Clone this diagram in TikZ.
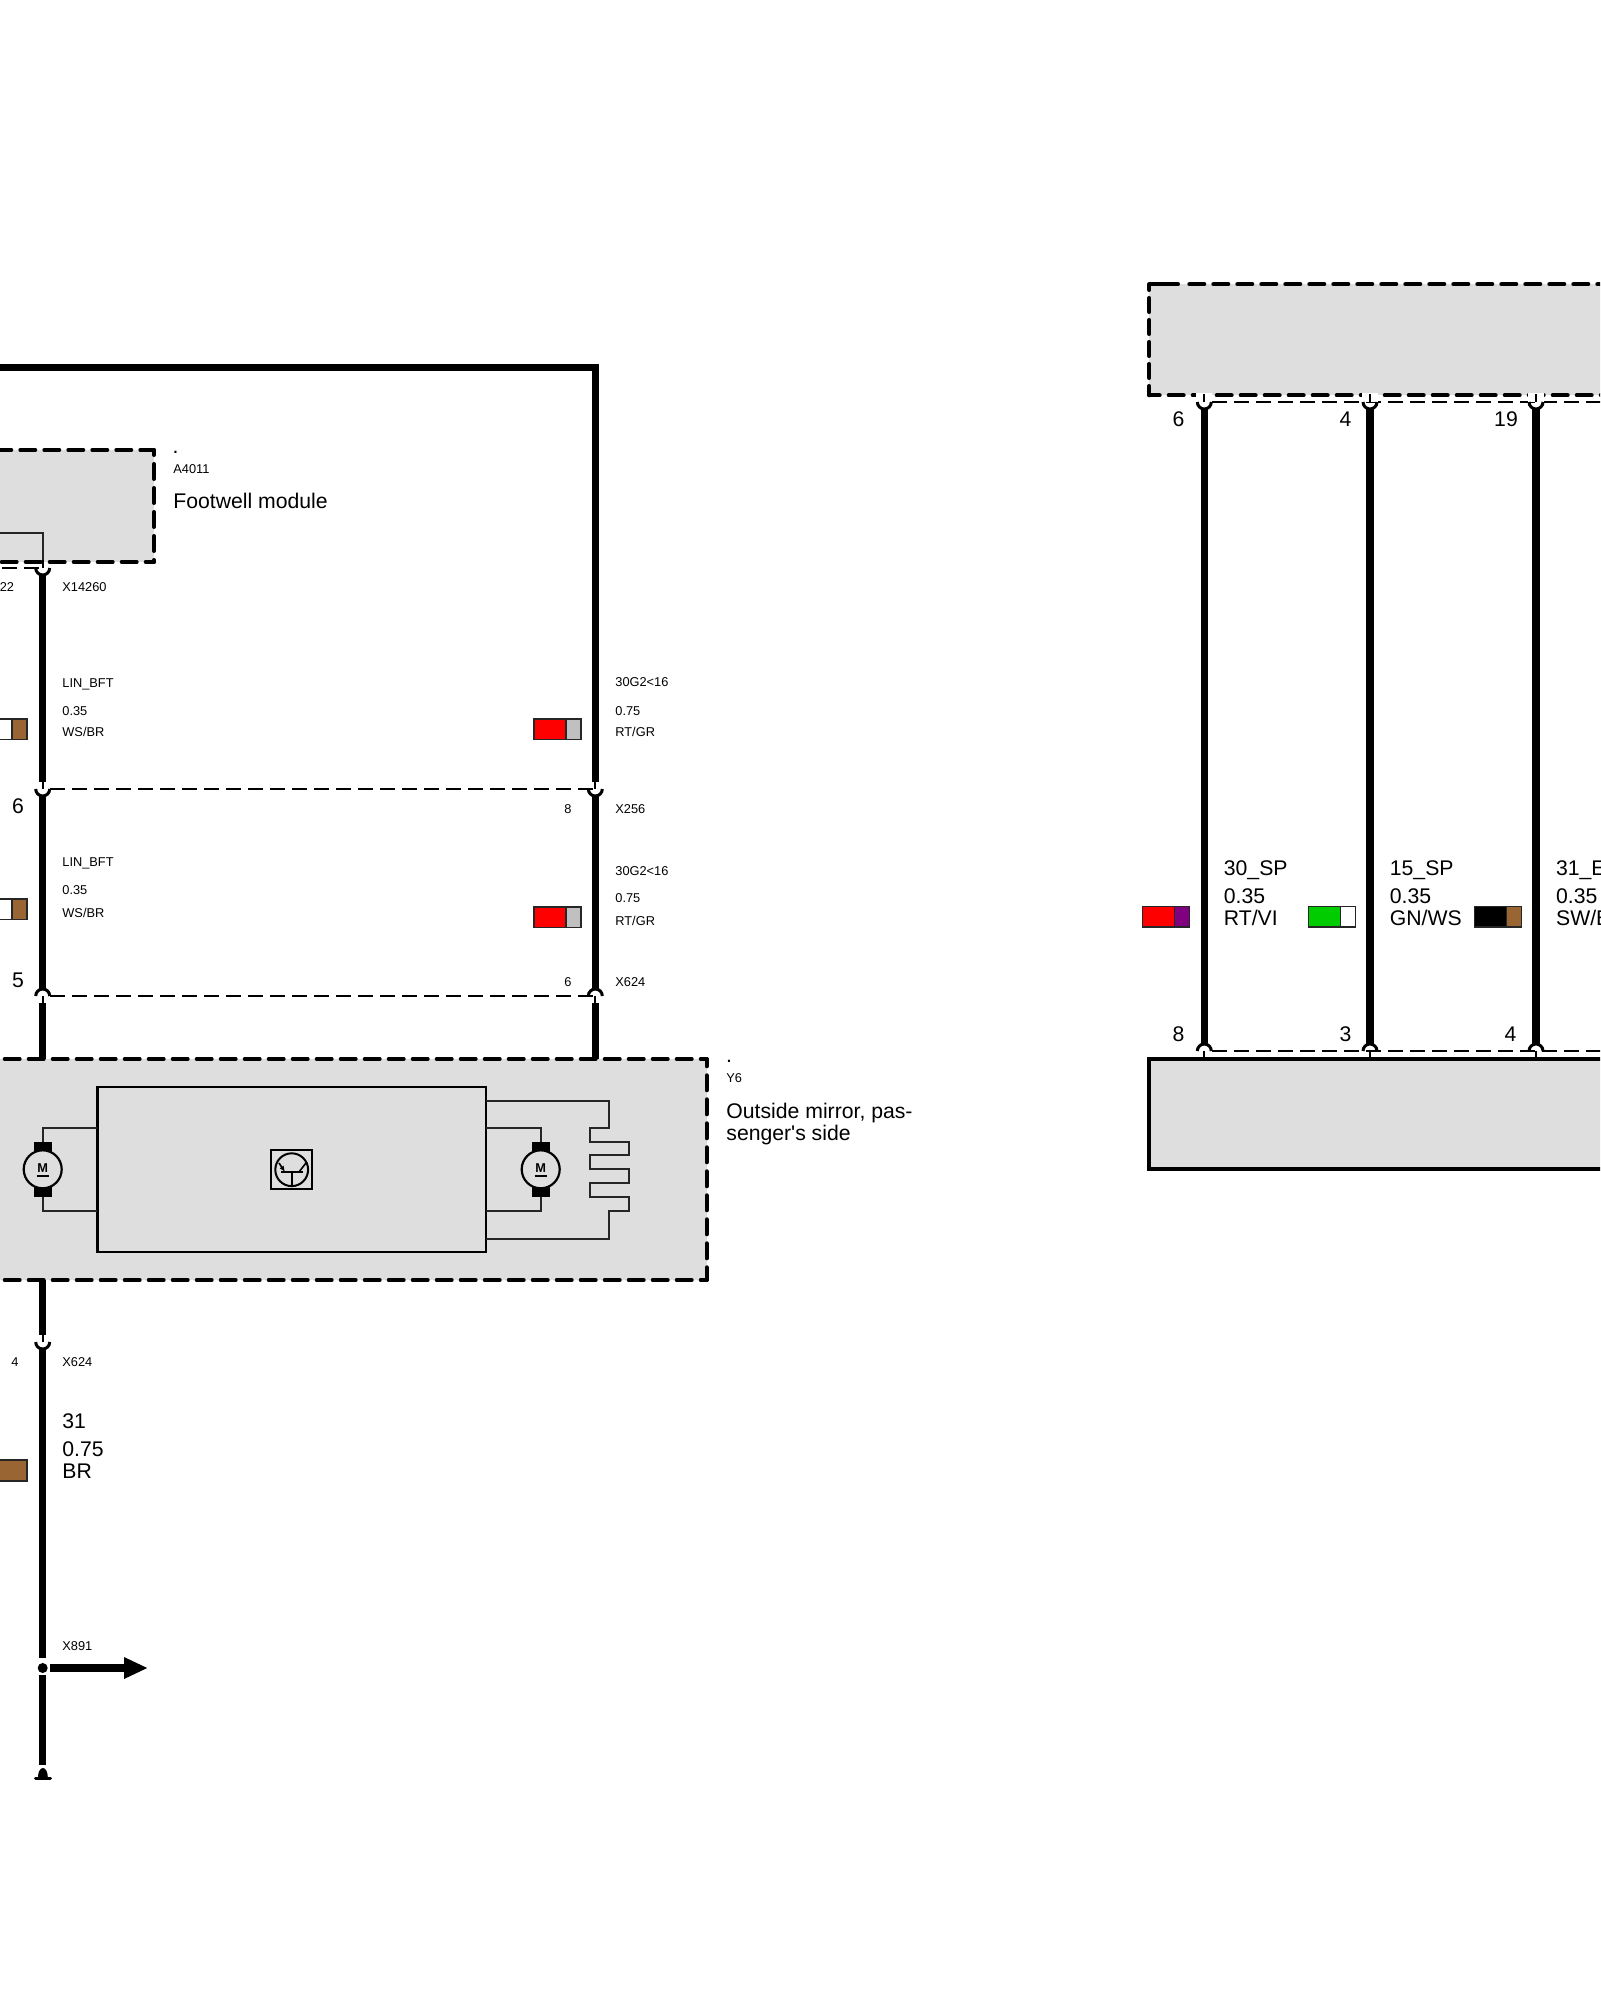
\documentclass[tikz,border=0pt]{standalone}
\usepackage{fontspec}
\setmainfont{Liberation Sans}
\newfontfamily\straightfont{Liberation Sans}
\usetikzlibrary{arrows.meta,calc}
\definecolor{boxgray}{HTML}{DEDEDE}
\definecolor{wirebrown}{HTML}{996633}
\definecolor{wiregreen}{HTML}{00CC00}
\definecolor{wiregray}{HTML}{C0C0C0}
\definecolor{wirepurple}{HTML}{800080}
\tikzset{>=latex,
  wire/.style={line width=3.6pt,black},
  stem/.style={line width=0.9pt,black},
  plug/.style={line width=1.5pt,black},
  thinline/.style={line width=1pt,black!85},
  pinline/.style={line width=0.9pt,black,dash pattern=on 7.5pt off 3.5pt},
  modedge/.style={line width=2pt,line cap=round,dash pattern=on 7.5pt off 4.5pt},
  solidbox/.style={line width=2pt,fill=boxgray},
  swatchline/.style={line width=0.8pt,draw=black!85},
  smalltxt/.style={font=\fontsize{6.4}{7.5}\selectfont,inner sep=0pt,anchor=west,text height=4.5pt,text depth=0pt},
  bigtxt/.style={font=\fontsize{10.6}{12.5}\selectfont,inner sep=0pt,anchor=west,text height=7.5pt,text depth=0pt}
}
\newcommand{\plugcup}[1]{%
  \draw[stem] (#1) -- ++(0,-8);
  \draw[plug] ([xshift=-3.5pt]#1) arc[start angle=180,end angle=360,radius=3.5pt];
}
\newcommand{\plugdome}[1]{%
  \draw[stem] (#1) -- ++(0,8);
  \draw[plug] ([xshift=-3.5pt]#1) arc[start angle=180,end angle=0,radius=3.5pt];
}
\begin{document}
\begin{tikzpicture}[x=0.5pt,y=-0.5pt]
  \useasboundingbox (0,0) rectangle (1600,2000);
  \clip (0,0) rectangle (1600,2000);

  % module boxes
  \fill[boxgray] (-20,450) rectangle (154,562);
  \fill[boxgray] (-20,1059) rectangle (706.7,1280);
  \fill[boxgray] (1149.3,284.3) rectangle (1620,395.3);
  \draw[modedge] (-3.7,450) -- (154,450);
  \draw[modedge] (-22.3,562) -- (154,562);
  \draw[modedge,dash phase=5pt] (154,450) -- (154,562);
  \draw[modedge] (-19.3,1059) -- (706.7,1059);
  \draw[modedge] (-19.3,1280) -- (706.7,1280);
  \draw[modedge,dash phase=3.85pt] (706.7,1059) -- (706.7,1280);
  \draw[line width=2pt,line cap=round] (1149.3,284.3) -- (1178,284.3);
  \draw[modedge] (1189.3,284.3) -- (1620,284.3);
  \draw[modedge,dash phase=2.3pt] (1149.3,395.3) -- (1620,395.3);
  \draw[line width=2pt,line cap=round,dash pattern=on 7pt off 4pt,dash phase=4.15pt] (1149.3,284.3) -- (1149.3,395.3);
  \draw[solidbox] (1620,1059) -- (1149.3,1059) -- (1149.3,1169.3) -- (1620,1169.3);

  % pin coordinates
  \coordinate (lina) at (42.7,568);
  \coordinate (linb) at (42.7,789);
  \coordinate (linc) at (42.7,996);
  \coordinate (gnda) at (42.7,1342);
  \coordinate (gndb) at (42.7,1668);
  \coordinate (gndc) at (42.7,1778);
  \coordinate (batb) at (595.3,789);
  \coordinate (batc) at (595.3,996);
  \coordinate (corner) at (595.3,367.5);
  \coordinate (tip) at (148,1668);

  % inside of footwell module
  \draw[thinline] (-20,533) -- (42.7,533) -- (lina);

  % harness wires
  \draw[pinline] (-20,568) -- (lina);
  \draw[pinline] (-20,789) -- (1,789);
  \draw[pinline] (50,789) -- (batb);
  \draw[pinline] (50,996) -- (batc);
  \draw[wire] ($(lina)+(0,7)$) -- ($(linb)+(0,-7)$);
  \draw[wire] ($(linb)+(0,7)$) -- ($(linc)+(0,-6)$);
  \draw[wire] ($(linc)+(0,7)$) -- (42.7,1059);
  \draw[wire] (42.7,1280) -- ($(gnda)+(0,-7)$);
  \draw[wire] ($(gnda)+(0,7)$) -- ($(gndb)+(0,-10)$);
  \draw[wire] ($(gndb)+(0,7)$) -- ($(gndc)+(0,-13)$);
  \draw[wire] (-20,367.5) -- (corner) -- ($(batb)+(0,-7)$);
  \draw[wire] ($(batb)+(0,7)$) -- ($(batc)+(0,-6)$);
  \draw[wire] ($(batc)+(0,7)$) -- (595.3,1059);
  \draw[wire,-{Triangle[length=12pt,width=10pt]}] (50,1668) -- (tip);
  \fill (gndb) circle[radius=2.5pt];
  \fill (38,1777) arc[start angle=180,end angle=0,x radius=2.45pt,y radius=4.5pt] -- cycle;
  \draw[line width=1.5pt,line cap=round] (35.5,1778) -- (50.5,1778);
  \foreach \p in {lina,linb,gnda,batb}{\plugcup{\p}}
  \foreach \p in {linc,batc}{\plugdome{\p}}

  % right harness
  \draw[pinline] (1212,402) -- (1620,402);
  \draw[pinline] (1212,1051) -- (1620,1051);
  \foreach \wx/\wn in {1204.3/pa,1370/pb,1536/pc}{
    \coordinate (\wn top) at (\wx,402);
    \coordinate (\wn bot) at (\wx,1051);
    \fill[white] ($(\wn top)+(-8,-9)$) rectangle ($(\wn top)+(8,0)$);
    \draw[wire] ($(\wn top)+(0,7)$) -- ($(\wn bot)+(0,-6)$);
    \plugcup{\wn top}
    \plugdome{\wn bot}
  }

  % mirror electronics
  \draw[line width=1.2pt,fill=boxgray] (97.3,1086.7) rectangle (485.7,1252);
  \draw[thinline] (97.3,1128) -- (42.7,1128) -- (42.7,1142);
  \draw[thinline] (97.3,1211) -- (42.7,1211) -- (42.7,1197);
  \draw[thinline] (485.7,1128) -- (540.7,1128) -- (540.7,1142);
  \draw[thinline] (485.7,1211) -- (540.7,1211) -- (540.7,1197);
  \foreach \mx/\mn in {42.7/motorl,540.7/motorr}{
    \coordinate (\mn) at (\mx,1169.3);
    \fill ($(\mn)+(-9,-27.3)$) rectangle ($(\mn)+(9,-15)$);
    \fill ($(\mn)+(-9,15)$) rectangle ($(\mn)+(9,27.7)$);
    \draw[line width=1.1pt,fill=boxgray] (\mn) circle[radius=9.5pt];
    \node[smalltxt,anchor=center,font=\fontsize{6.4}{7.5}\selectfont\bfseries] (\mn txt) at ($(\mn)+(0,-1.5)$) {M};
    \draw[line width=0.8pt] ($(\mn)+(-6,6.5)$) -- ($(\mn)+(6,6.5)$);
  }
  \draw[thinline] (485.7,1100.7) -- (609.3,1100.7) -- (609.3,1128.3) -- (590,1128.3) -- (590,1142)
    -- (629,1142) -- (629,1155.3) -- (590,1155.3) -- (590,1169.3) -- (629,1169.3) -- (629,1183.3)
    -- (590,1183.3) -- (590,1197.3) -- (629,1197.3) -- (629,1211.3) -- (609.3,1211.3)
    -- (609.3,1239.3) -- (485.7,1239.3);

  % transistor
  \coordinate (trans) at (291.7,1169.7);
  \draw[line width=0.7pt] (271,1150) rectangle (312,1189);
  \draw[line width=1pt] (trans) circle[radius=8.2pt];
  \draw[line width=0.8pt] (281,1172) -- (302.7,1172);
  \draw[line width=0.8pt] (291.7,1172) -- (291.7,1186);
  \draw[line width=0.8pt,-{Latex[length=3pt,width=2.5pt]}] (279,1163) -- (285,1172);
  \draw[line width=0.8pt] (306.7,1162) -- (299,1172);

  % colour samples
  \foreach \sx/\sy/\cola/\colb in {-19.8/718.8/white/wirebrown,-19.8/898.8/white/wirebrown,
      534/718.8/red/wiregray,534/906.8/red/wiregray,1142.5/906.5/red/wirepurple,1308.5/906.5/wiregreen/white,1474.5/906.5/black/wirebrown}{
    \draw[swatchline,fill=\cola] (\sx,\sy) rectangle ++(32,20.5);
    \draw[swatchline,fill=\colb] (\sx+32,\sy) rectangle ++(15,20.5);
  }
  \draw[swatchline,fill=wirebrown] (-20,1459.8) rectangle (27.2,1481.2);

  % footwell and mirror labels
  \node[bigtxt,anchor=center] (dota) at (175.5,446) {.};
  \node[smalltxt] (a4011) at (173,469) {A4011};
  \node[bigtxt] (footwell) at (173,501) {Footwell module};
  \node[bigtxt,anchor=center] (dotb) at (729,1055) {.};
  \node[smalltxt] (y6) at (726,1078) {Y6};
  \node[bigtxt] (mirrora) at (726,1111) {Outside mirror, pas-};
  \node[bigtxt,font=\straightfont\fontsize{10.6}{12.5}\selectfont] (mirrorb) at (726,1133) {senger's side};

  % wire labels left
  \node[smalltxt,anchor=center] (pin22) at (7,587) {22};
  \node[smalltxt] (x14260) at (62,587) {X14260};
  \node[smalltxt] (lina1) at (62,683) {LIN\_BFT};
  \node[smalltxt] (lina2) at (62,711) {0.35};
  \node[smalltxt] (lina3) at (62,732) {WS/BR};
  \node[bigtxt,anchor=center] (pin6) at (18,806) {6};
  \node[smalltxt] (linb1) at (62,862) {LIN\_BFT};
  \node[smalltxt] (linb2) at (62,890) {0.35};
  \node[smalltxt] (linb3) at (62,913) {WS/BR};
  \node[bigtxt,anchor=center] (pin5) at (18,980) {5};
  \node[smalltxt,anchor=center] (pin4) at (15,1362) {4};
  \node[smalltxt] (x624a) at (62,1362) {X624};
  \node[bigtxt] (gnd1) at (62,1421) {31};
  \node[bigtxt] (gnd2) at (62,1449) {0.75};
  \node[bigtxt] (gnd3) at (62,1471) {BR};
  \node[smalltxt] (x891) at (62,1646) {X891};

  % wire labels middle
  \node[smalltxt] (bata1) at (615,682) {30G2<16};
  \node[smalltxt] (bata2) at (615,711) {0.75};
  \node[smalltxt] (bata3) at (615,732) {RT/GR};
  \node[smalltxt,anchor=center] (pin8) at (568,809) {8};
  \node[smalltxt] (x256) at (615,809) {X256};
  \node[smalltxt] (batb1) at (615,871) {30G2<16};
  \node[smalltxt] (batb2) at (615,898) {0.75};
  \node[smalltxt] (batb3) at (615,921) {RT/GR};
  \node[smalltxt,anchor=center] (pin6b) at (568,982) {6};
  \node[smalltxt] (x624b) at (615,982) {X624};

  % wire labels right
  \foreach \lx/\ln/\la/\lb in {1223.5/ra/30\_SP/RT\slash VI,1389.5/rb/15\_SP/GN\slash WS,1555.7/rc/31\_E/SW\slash BR}{
    \node[bigtxt] (\ln a) at (\lx,868) {\la};
    \node[bigtxt] (\ln b) at (\lx,896) {0.35};
    \node[bigtxt] (\ln c) at (\lx,918) {\lb};
  }
  \foreach \nx/\nv/\nn in {1178.5/6/ta,1345.5/4/tb,1506/19/tc}{
    \node[bigtxt,anchor=center] (\nn) at (\nx,419) {\nv};
  }
  \foreach \nx/\nv/\nn in {1178.5/8/ba,1345.5/3/bb,1510.5/4/bc}{
    \node[bigtxt,anchor=center] (\nn) at (\nx,1034) {\nv};
  }
\end{tikzpicture}
\end{document}
